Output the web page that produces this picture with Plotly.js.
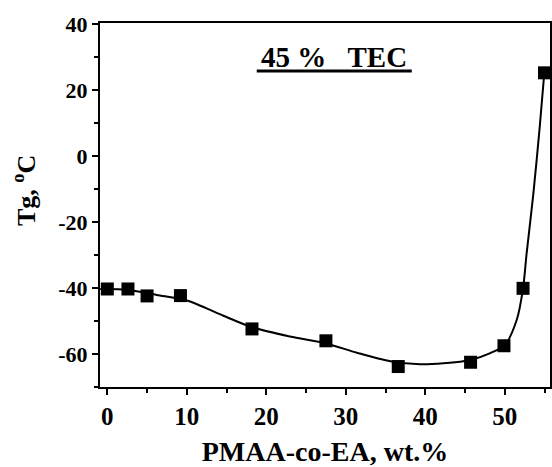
<!DOCTYPE html>
<html>
<head>
<meta charset="utf-8">
<script src="https://cdn.plot.ly/plotly-3.0.1.min.js"></script>
<style>html,body{margin:0;padding:0;background:#fff;}#chart{width:552px;height:467px;}</style>
</head>
<body>
<div id="chart"></div>
<script>
// Measured data points (PMAA-co-EA wt.% vs Tg)
const pointX = [0, 2.6, 5.0, 9.2, 18.2, 27.5, 36.6, 45.7, 49.9, 52.3, 55.0];
const pointY = [-40.3, -40.3, -42.4, -42.3, -52.4, -56.0, -63.8, -62.5, -57.5, -40.1, 25.2];

// Fitted curve
const curveX = [-0.9, 2.5, 6.2, 10, 14.6, 18.2, 23, 27.5, 31.4, 35.6, 39.3, 42.3, 45.7, 48.1, 50.0, 51.5, 52.3, 52.75, 53.6, 54.4, 54.97];
const curveY = [-40.3, -40.5, -42.1, -43.8, -48.4, -51.9, -54.7, -56.8, -59.6, -62.2, -63.1, -62.8, -61.8, -59.8, -57.3, -49.7, -40.1, -29.5, -11.3, 8.9, 25.1];

const xTicks = [0, 10, 20, 30, 40, 50];
const yTicks = [-60, -40, -20, 0, 20, 40];
const labelText = '45 %   TEC';
const xTitle = 'PMAA-co-EA, wt.%';
const yTitle = 'Tg, <sup>o</sup>C';

const serif = '"Liberation Serif", "Times New Roman", serif';

const traces = [
  {x: curveX, y: curveY, mode: 'lines', line: {color: '#000', width: 2, shape: 'spline', smoothing: 0.8}, hoverinfo: 'skip', showlegend: false},
  {x: pointX, y: pointY, mode: 'markers', marker: {symbol: 'square', size: 13, color: '#000'}, showlegend: false}
];

const layout = {
  width: 552, height: 467,
  margin: {l: 100, r: 2, t: 23, b: 80},
  paper_bgcolor: '#fff', plot_bgcolor: '#fff',
  font: {family: serif, color: '#000'},
  xaxis: {
    range: [-0.92, 55.69], tickvals: xTicks, ticktext: xTicks.map(String),
    ticks: 'outside', ticklen: 6, tickwidth: 2, tickcolor: '#000',
    minor: {ticks: 'outside', dtick: 5, tick0: 0, ticklen: 4, tickwidth: 2, tickcolor: '#000'},
    showline: true, linewidth: 2, linecolor: '#000', mirror: true, showgrid: false, zeroline: false,
    tickfont: {family: serif, size: 25, color: '#000', weight: 'bold'},
    title: {text: '<b>' + xTitle + '</b>', font: {family: serif, size: 28, color: '#000'}, standoff: 16}
  },
  yaxis: {
    range: [-70, 40.3], tickvals: yTicks, ticktext: yTicks.map(String),
    ticks: 'outside', ticklen: 6, tickwidth: 2, tickcolor: '#000',
    minor: {ticks: 'outside', dtick: 10, tick0: 0, ticklen: 4, tickwidth: 2, tickcolor: '#000'},
    showline: true, linewidth: 2, linecolor: '#000', mirror: true, showgrid: false, zeroline: false,
    tickfont: {family: serif, size: 22, color: '#000', weight: 'bold'}
  },
  annotations: [
    {x: 28.5, y: 30, xref: 'x', yref: 'y', text: '<b>' + labelText + '</b>', showarrow: false,
     font: {family: serif, size: 29, color: '#000'}},
    {x: -0.169, y: 0.541, xref: 'paper', yref: 'paper', text: '<b>' + yTitle + '</b>', showarrow: false,
     textangle: -90, xanchor: 'center', yanchor: 'middle',
     font: {family: serif, size: 26, color: '#000'}}
  ],
  shapes: [
    {type: 'line', xref: 'x', yref: 'y', x0: 18.8, x1: 38.3, y0: 25.75, y1: 25.75, line: {color: '#000', width: 3}}
  ]
};

Plotly.newPlot('chart', traces, layout, {displayModeBar: false, staticPlot: true});
</script>
</body>
</html>
